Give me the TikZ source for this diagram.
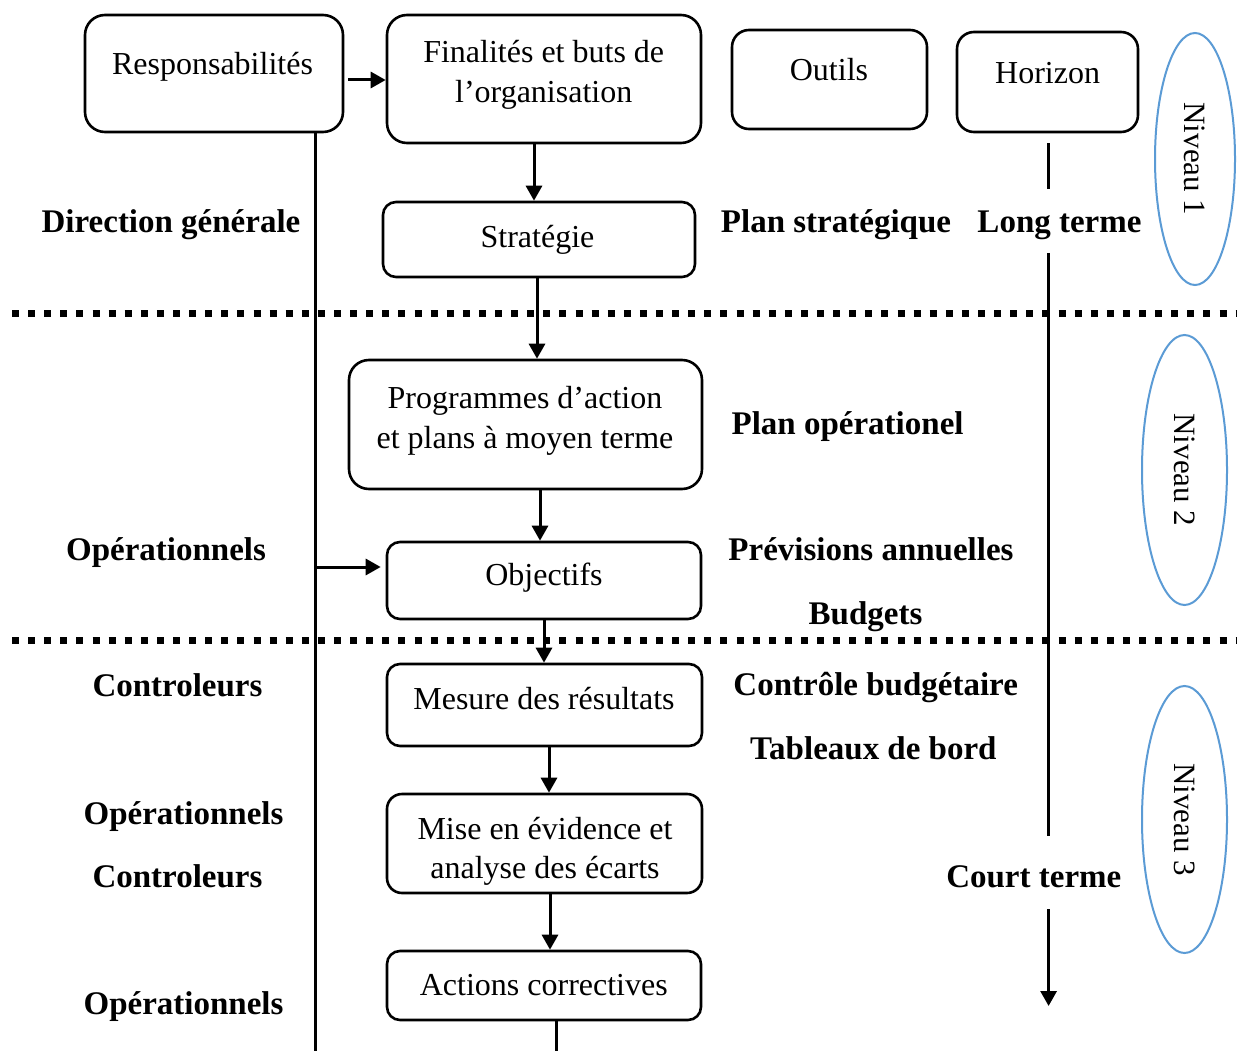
\documentclass[tikz,border=0pt]{standalone}
\usepackage{fontspec}
\setmainfont{Liberation Serif}
\usetikzlibrary{arrows.meta,shapes.geometric}
\definecolor{lvlblue}{RGB}{91,155,213}

\begin{document}
\begin{tikzpicture}[x=1pt,y=-1pt,
  box/.style={draw, line width=2.6pt, rounded corners=#1, inner sep=0pt},
  box/.default=18pt,
  txt/.style={font=\fontsize{32}{39.5}\selectfont, align=center, inner sep=0pt, anchor=base, yshift=-1.5pt},
  lab/.style={font=\fontsize{33}{40}\selectfont\bfseries, inner sep=0pt, anchor=base, yshift=-1.5pt},
  lvl/.style={draw=lvlblue, line width=2pt, ellipse, rotate=-90, inner sep=0pt,
    font=\fontsize{31}{38}\selectfont},
  link/.style={line width=3pt},
  arr/.style={line width=3pt, -{Triangle[width=16pt,length=15pt]}},
  sep/.style={line width=7pt, dash pattern=on 7pt off 9.1pt}
]
\useasboundingbox[fill=white] (0,0) rectangle (1237,1051);

% level separators
\draw[sep] (12,313.3) -- (1237,313.3);
\draw[sep] (12,640) -- (1237,640);

% boxes
\node[box=20pt, minimum width=258pt, minimum height=117pt] (resp) at (214,73.5) {};
\node[box=20pt, minimum width=314pt, minimum height=128pt] (fin) at (544,79) {};
\node[box=17pt, minimum width=195pt, minimum height=99pt] (outils) at (829.5,79.5) {};
\node[box=17pt, minimum width=181pt, minimum height=100pt] (hor) at (1047.5,82) {};
\node[box=13pt, minimum width=312pt, minimum height=75pt] (strat) at (539,239.5) {};
\node[box=20pt, minimum width=353pt, minimum height=129pt] (prog) at (525.5,424.5) {};
\node[box=13pt, minimum width=314pt, minimum height=77pt] (obj) at (544,580.5) {};
\node[box=13pt, minimum width=315pt, minimum height=82pt] (mes) at (544.5,705) {};
\node[box=15pt, minimum width=315pt, minimum height=99pt] (mise) at (544.5,843.5) {};
\node[box=13pt, minimum width=314pt, minimum height=69pt] (act) at (544,985.5) {};

% box texts (base anchor sits on the last line)
\node[txt] (resp-t) at (212.5,73.3) {Responsabilités};
\node[txt] (fin-t) at (543.7,101) {Finalités et buts de\\l’organisation};
\node[txt] (outils-t) at (829,79) {Outils};
\node[txt] (hor-t) at (1047.6,81.7) {Horizon};
\node[txt] (strat-t) at (537.5,246) {Stratégie};
\node[txt] (prog-t) at (525,446.7) {Programmes d’action\\et plans à moyen terme};
\node[txt] (obj-t) at (544,584) {Objectifs};
\node[txt] (mes-t) at (544,708.3) {Mesure des résultats};
\node[txt] (mise-t) at (545,877) {Mise en évidence et\\analyse des écarts};
\node[txt] (act-t) at (543.8,994) {Actions correctives};

% main flow
\draw[arr] ([xshift=4pt,yshift=-6.5pt]resp.east) -- ([yshift=-1pt]fin.west);
\draw[arr] ([xshift=-10pt]fin.south) -- ([xshift=-5pt]strat.north);
\draw[arr] ([xshift=-2pt]strat.south) -- ([xshift=11.5pt]prog.north);
\draw[arr] ([xshift=14.5pt]prog.south) -- ([xshift=-4pt]obj.north);
\draw[arr] (obj.south) -- ([xshift=-0.5pt]mes.north);
\draw[arr] ([xshift=4.5pt]mes.south) -- ([xshift=4.5pt]mise.north);
\draw[arr] ([xshift=5.5pt]mise.south) -- ([xshift=6pt]act.north);
\coordinate (actend) at (556,1051);
\draw[link] ([xshift=12pt]act.south) -- (actend);

% responsibility line
\coordinate (lbot) at (315,1051);
\coordinate (ltap) at (315,567);
\draw[link] ([xshift=101pt]resp.south) -- (lbot);
\draw[arr, shorten >=5pt] (ltap) -- (obj.west |- ltap);

% time horizon axis
\coordinate (h1) at (1048.6,189);
\coordinate (h2) at (1048.6,253);
\coordinate (h3) at (1048.6,836);
\coordinate (h4) at (1048.6,909);
\coordinate (h5) at (1048.6,1006);
\draw[link] ([xshift=1.1pt,yshift=-10pt]hor.south) -- (h1);
\draw[link] (h2) -- (h3);
\draw[arr] (h4) -- (h5);

% actors
\node[lab] (dg) at (171,231) {Direction générale};
\node[lab] (op1) at (166,559) {Opérationnels};
\node[lab] (ct1) at (177.5,695) {Controleurs};
\node[lab] (op2) at (183.5,823) {Opérationnels};
\node[lab] (ct2) at (177.5,886) {Controleurs};
\node[lab] (op3) at (183.5,1013) {Opérationnels};

% tools and horizons
\node[lab] (ps) at (836,231) {Plan stratégique};
\node[lab] (lt) at (1059.5,231) {Long terme};
\node[lab] (po) at (847.6,433) {Plan opérationel};
\node[lab] (pa) at (871,559) {Prévisions annuelles};
\node[lab] (bu) at (865.5,623) {Budgets};
\node[lab] (cb) at (875.7,694) {Contrôle budgétaire};
\node[lab] (tb) at (873.4,758) {Tableaux de bord};
\node[lab] (ctm) at (1033.8,886) {Court terme};

% levels
\node[lvl, minimum width=252pt, minimum height=80pt] (n1) at (1195,159) {Niveau 1};
\node[lvl, minimum width=270pt, minimum height=85pt] (n2) at (1184.5,470) {Niveau 2};
\node[lvl, minimum width=267pt, minimum height=85pt] (n3) at (1184.5,819.5) {Niveau 3};
\end{tikzpicture}
\end{document}
